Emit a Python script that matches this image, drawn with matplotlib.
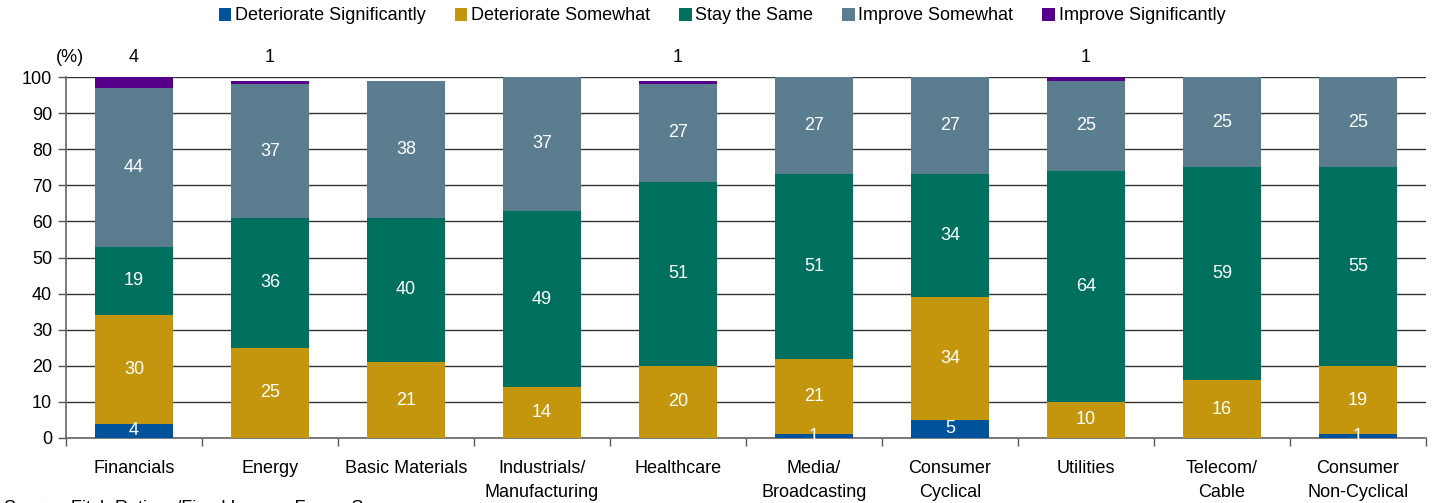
import matplotlib.pyplot as plt
import numpy as np

plt.rcParams['font.family'] = ['Liberation Sans', 'DejaVu Sans']

sectors = ['Financials', 'Energy', 'Basic Materials', 'Industrials/\nManufacturing',
           'Healthcare', 'Media/\nBroadcasting', 'Consumer\nCyclical', 'Utilities',
           'Telecom/\nCable', 'Consumer\nNon-Cyclical']
deteriorate_sig = [4, 0, 0, 0, 0, 1, 5, 0, 0, 1]
deteriorate_some = [30, 25, 21, 14, 20, 21, 34, 10, 16, 19]
stay_same = [19, 36, 40, 49, 51, 51, 34, 64, 59, 55]
improve_some = [44, 37, 38, 37, 27, 27, 27, 25, 25, 25]
improve_sig = [4, 1, 0, 0, 1, 0, 0, 1, 0, 0]

series = [
    ('Deteriorate Significantly', deteriorate_sig, '#00539b'),
    ('Deteriorate Somewhat', deteriorate_some, '#c4960e'),
    ('Stay the Same', stay_same, '#00705e'),
    ('Improve Somewhat', improve_some, '#5b7d90'),
    ('Improve Significantly', improve_sig, '#55008b'),
]

fs = 13

fig = plt.figure(figsize=(14.32, 5.03), dpi=100)
ax = fig.add_axes([66 / 1432, 65 / 503, 1360 / 1432, 361 / 503])

x = np.arange(len(sectors))
bottom = np.zeros(len(sectors))
width = 0.57
for name, vals, color in series:
    vals = np.array(vals, dtype=float)
    ax.bar(x, vals, width, bottom=bottom, color=color, label=name, zorder=3)
    for xi, b, v in zip(x, bottom, vals):
        if v <= 0:
            continue
        if name == 'Improve Significantly':
            ax.text(xi, 105.5, f'{v:g}', ha='center', va='center',
                    fontsize=fs, color='black', clip_on=False)
        else:
            ax.text(xi, b + v / 2, f'{v:g}', ha='center', va='center',
                    fontsize=fs, color='white', zorder=4)
    bottom += vals

ax.set_ylim(0, 100)
ax.set_xlim(-0.5, len(sectors) - 0.5)
ax.set_yticks(np.arange(0, 101, 10))
ax.tick_params(axis='y', labelsize=fs, length=6, width=1, color='#555555', pad=4)
ax.yaxis.grid(True, color='#333333', linewidth=1)
ax.set_axisbelow(True)

# boundary ticks on the category axis, labels at the centres
ax.set_xticks(np.arange(-0.5, len(sectors), 1))
ax.set_xticklabels([])
ax.set_xticks(x, minor=True)
ax.set_xticklabels(sectors, minor=True, fontsize=fs, linespacing=1.55)
ax.tick_params(axis='x', which='major', length=6, width=1, color='#555555')
ax.tick_params(axis='x', which='minor', length=0, pad=16)

for side in ('top', 'right'):
    ax.spines[side].set_visible(False)
for side in ('left', 'bottom'):
    ax.spines[side].set_color('#666666')
    ax.spines[side].set_linewidth(1.2)

ax.text(-0.47, 105.5, '(%)', fontsize=fs, ha='center', va='center', clip_on=False)

fig.legend(loc='center', bbox_to_anchor=(722 / 1432, 1 - 16 / 503), ncol=5,
           frameon=False, fontsize=fs, handlelength=0.7, handleheight=0.7,
           handletextpad=0.2, columnspacing=1.6)

fig.text(0.003, 3 / 503, 'Source: Fitch Ratings/Fixed Income Forum Survey',
         fontsize=fs, va='top', ha='left')

fig.savefig('out.png', dpi=100)
